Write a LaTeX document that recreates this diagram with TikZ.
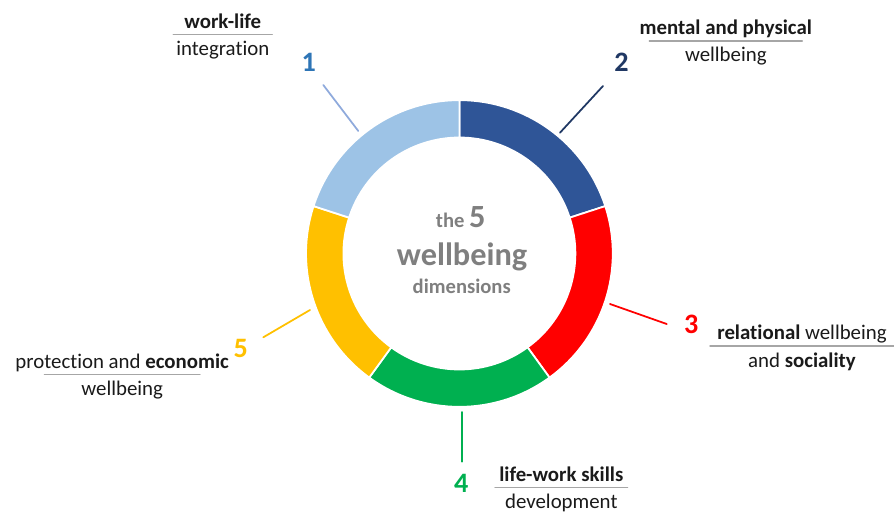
\documentclass[tikz,border=0pt]{standalone}
\usepackage{fontspec}
\setmainfont{Carlito}[Ligatures=NoCommon]
\definecolor{dimA}{HTML}{9DC3E6}
\definecolor{dimB}{HTML}{2F5597}
\definecolor{dimC}{HTML}{FF0000}
\definecolor{dimD}{HTML}{00B050}
\definecolor{dimE}{HTML}{FFC000}
\definecolor{numA}{HTML}{2E75B6}
\definecolor{numB}{HTML}{203864}
\definecolor{lineA}{HTML}{8FAADC}
\definecolor{centre}{HTML}{7F7F7F}
\definecolor{rulegray}{HTML}{A6A6A6}
\definecolor{txt}{HTML}{1A1A1A}
\tikzset{
	lbl/.style={font=\fontsize{17.8}{21}\selectfont, text=txt, inner sep=0pt, anchor=base},
	num/.style={font=\fontsize{24}{28}\selectfont\bfseries},
	big/.style={font=\fontsize{27.6}{30}\selectfont\bfseries, text=centre, inner sep=0pt, anchor=base},
	small/.style={font=\fontsize{17.6}{20}\selectfont\bfseries, text=centre, inner sep=0pt, anchor=base}
}
\begin{document}
\begin{tikzpicture}[line join=round, line cap=round]
\useasboundingbox (-13.782,-7.785) rectangle (13.038,7.605);
% ring
\foreach \a/\col in {90/dimB, 18/dimC, -54/dimD, -126/dimE, -198/dimA}
	{\draw[fill=\col, draw=white, line width=1.5pt] (\a:4.6) arc[start angle=\a, end angle=\a-72, radius=4.6]
	-- ({\a-72}:3.48) arc[start angle=\a-72, end angle=\a, radius=3.48] -- cycle;}
% centre text
\node[small] (c1) at (0.04,0.786) {the {\fontsize{27.6}{30}\selectfont 5}};
\node[big] (c2) at (0.08,-0.366) {wellbeing};
\node[small] (c3) at (0.07,-1.215) {dimensions};
% leaders
\coordinate (p1) at (-3.033,3.675);
\coordinate (q1) at (-4.083,5.055);
\coordinate (p2) at (3.018,3.624);
\coordinate (q2) at (4.308,5.025);
\coordinate (p3) at (4.518,-1.515);
\coordinate (q3) at (6.219,-2.115);
\coordinate (p4) at (0.069,-4.755);
\coordinate (q4) at (0.069,-6.246);
\coordinate (p5) at (-4.482,-1.695);
\coordinate (q5) at (-5.883,-2.514);
\foreach \p/\q/\col in {p1/q1/lineA, p2/q2/numB, p3/q3/dimC, p4/q4/dimD, p5/q5/dimE}
	\draw[draw=\col, line width=1.5pt] (\p) -- (\q);
\foreach \nm/\coor/\col/\n in {n1/{(-4.52,5.739)}/numA/1, n2/{(4.863,5.724)}/numB/2,
	n3/{(6.954,-2.115)}/dimC/3, n4/{(0.054,-6.885)}/dimD/4, n5/{(-6.558,-2.859)}/dimE/5}
	\node[num, text=\col] (\nm) at \coor {\n};
% labels
\foreach \nm/\coor/\w/\up/\dn in {l1/{(-7.098,6.576)}/1.485/{\textbf{work-life}}/{integration},
	l2/{(7.992,6.375)}/2.295/{\textbf{mental and physical}}/{wellbeing},
	l3/{(10.278,-2.775)}/2.76/{\textbf{relational} wellbeing}/{and \textbf{sociality}},
	l4/{(3.057,-7.014)}/1.99/{\textbf{life-work skills}}/{development},
	l5/{(-10.116,-3.636)}/2.334/{protection and \textbf{economic}}/{wellbeing}}
	{\draw[rulegray, line width=1.2pt, shift={\coor}] (-\w,0) -- (\w,0);
	\node[lbl, shift={(0,0.18)}] (\nm a) at \coor {\up};
	\node[lbl, shift={(0,-0.63)}] (\nm b) at \coor {\dn};}
\end{tikzpicture}
\end{document}
